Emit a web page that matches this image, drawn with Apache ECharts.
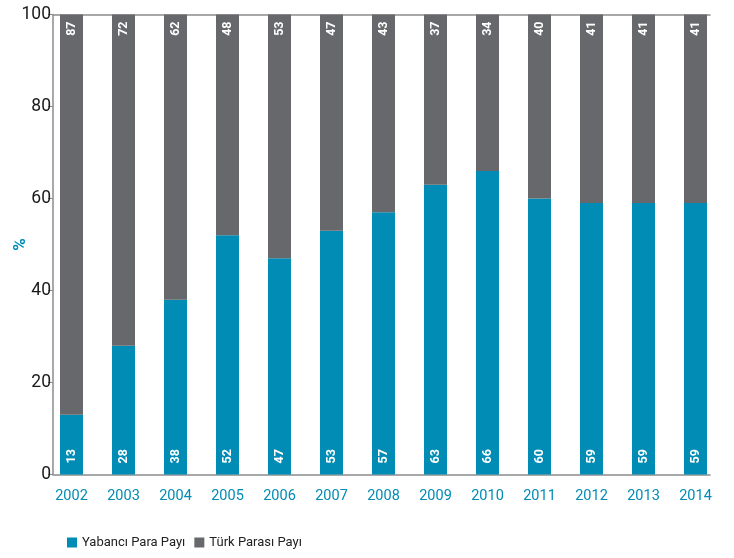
<!DOCTYPE html>
<html>
<head>
<meta charset="utf-8">
<script src="https://cdn.jsdelivr.net/npm/echarts@6/dist/echarts.min.js"></script>
<style>
  html, body { margin: 0; padding: 0; background: #fff; }
  #chart { width: 734px; height: 558px; }
</style>
</head>
<body>
<div id="chart"></div>
<script>
// Years on the horizontal axis
const years = ['2002', '2003', '2004', '2005', '2006', '2007', '2008', '2009', '2010', '2011', '2012', '2013', '2014'];
// Foreign-currency share (%)
const yabanciPara = [13, 28, 38, 52, 47, 53, 57, 63, 66, 60, 59, 59, 59];
// Turkish lira share (%)
const turkParasi = [87, 72, 62, 48, 53, 47, 43, 37, 34, 40, 41, 41, 41];

const FONT = 'Roboto, "Noto Sans", sans-serif';
const BLUE = '#008cb5';
const GREY = '#67686c';
const AXIS = '#8c8c8c';

const chart = echarts.init(document.getElementById('chart'), null, { renderer: 'canvas' });

const TOP = 14.5, BOTTOM = 83.5;

chart.setOption({
  animation: false,
  textStyle: { fontFamily: FONT },
  grid: [
    // bar area: one 52px band per year
    { left: 45.5, right: 12.5, top: TOP, bottom: BOTTOM, containLabel: false, outerBoundsMode: 'none' },
    // frame: the horizontal lines at 0 and 100, value axis on the left
    { left: 53, right: 24, top: TOP, bottom: BOTTOM, containLabel: false, outerBoundsMode: 'none' }
  ],
  xAxis: [
    {
      type: 'category',
      gridIndex: 0,
      data: years,
      boundaryGap: true,
      axisLine: { show: false },
      axisTick: { show: false },
      axisLabel: { color: BLUE, fontSize: 14.5, fontFamily: FONT, margin: 14 }
    },
    {
      type: 'value',
      gridIndex: 1,
      min: 0,
      max: 1,
      splitLine: { show: false },
      axisLine: { show: true, onZero: false, lineStyle: { color: AXIS, width: 1.5 } },
      axisTick: { show: false },
      axisLabel: { show: false }
    },
    {
      type: 'value',
      gridIndex: 1,
      position: 'top',
      min: 0,
      max: 1,
      splitLine: { show: false },
      axisLine: { show: true, onZero: false, lineStyle: { color: AXIS, width: 1.5 } },
      axisTick: { show: false },
      axisLabel: { show: false }
    }
  ],
  yAxis: [
    {
      type: 'value',
      gridIndex: 0,
      min: 0,
      max: 100,
      show: false
    },
    {
      type: 'value',
      gridIndex: 1,
      min: 0,
      max: 100,
      interval: 20,
      name: '%',
      nameLocation: 'middle',
      nameGap: 24,
      nameMoveOverlap: false,
      nameTextStyle: { color: BLUE, fontSize: 17, fontWeight: 'bold', fontFamily: FONT },
      splitLine: { show: false },
      axisLine: { show: true, onZero: false, lineStyle: { color: AXIS, width: 1.5 } },
      axisTick: { show: true, length: 5, lineStyle: { color: AXIS } },
      axisLabel: { color: '#1a1a1a', fontSize: 17.5, fontFamily: FONT, margin: 2 }
    }
  ],
  legend: {
    left: 62,
    bottom: 4,
    icon: 'rect',
    itemWidth: 10,
    itemHeight: 10,
    itemGap: 9,
    textStyle: { color: '#222', fontSize: 13, fontFamily: FONT },
    data: ['Yabancı Para Payı', 'Türk Parası Payı']
  },
  series: [
    {
      name: 'Yabancı Para Payı',
      type: 'bar',
      xAxisIndex: 0,
      yAxisIndex: 0,
      stack: 'total',
      barWidth: 23,
      itemStyle: { color: BLUE },
      data: yabanciPara,
      label: {
        show: true,
        position: 'insideBottom',
        rotate: 90,
        align: 'left',
        verticalAlign: 'middle',
        distance: 11,
        color: '#fff',
        fontSize: 12.5,
        fontWeight: 'bold',
        fontFamily: FONT
      }
    },
    {
      name: 'Türk Parası Payı',
      type: 'bar',
      xAxisIndex: 0,
      yAxisIndex: 0,
      stack: 'total',
      barWidth: 23,
      itemStyle: { color: GREY },
      data: turkParasi,
      label: {
        show: true,
        position: 'insideTop',
        rotate: 90,
        align: 'right',
        verticalAlign: 'middle',
        distance: 7,
        color: '#fff',
        fontSize: 12.5,
        fontWeight: 'bold',
        fontFamily: FONT
      }
    }
  ]
});
</script>
</body>
</html>
